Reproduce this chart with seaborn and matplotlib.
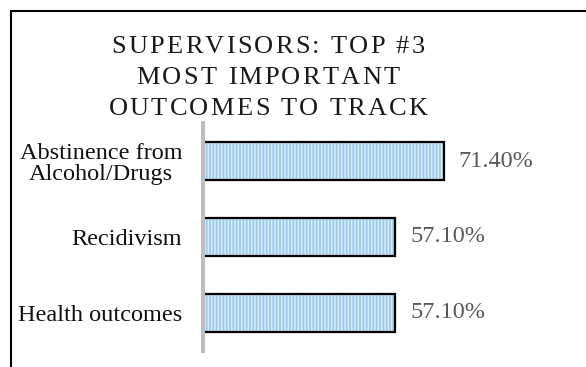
import matplotlib
matplotlib.use("Agg")
import matplotlib.pyplot as plt
import seaborn as sns
import pandas as pd
from matplotlib.patches import Rectangle

# Data
categories = ["Abstinence from\nAlcohol/Drugs", "Recidivism", "Health outcomes"]
values = [71.4, 57.1, 57.1]
title_lines = ["SUPERVISORS: TOP #3", "MOST IMPORTANT", "OUTCOMES TO TRACK"]

df = pd.DataFrame({"outcome": categories, "pct": values})

sns.set_theme(style="white")
plt.rcParams["font.family"] = ["Liberation Serif", "DejaVu Serif"]
plt.rcParams["hatch.linewidth"] = 1.1

W, H, DPI = 586, 367, 100
fig = plt.figure(figsize=(W / DPI, H / DPI), dpi=DPI)
fig.patch.set_facecolor("white")

# axes placed in pixel terms
ax_left, ax_right, ax_top, ax_bottom = 203, 540, 123, 351
ax = fig.add_axes([ax_left / W, 1 - ax_bottom / H,
                   (ax_right - ax_left) / W, (ax_bottom - ax_top) / H])

# striped fill
sns.barplot(data=df, y="outcome", x="pct", orient="h", ax=ax,
            color="#9DCAEA", saturation=1, width=0.51,
            edgecolor="#D8ECF9", linewidth=0, hatch="|||||")
# black outline
sns.barplot(data=df, y="outcome", x="pct", orient="h", ax=ax,
            fill=False, width=0.51, edgecolor="black", linewidth=1.6)

ax.set_xlim(0, 100)
ax.set_ylim(2.5, -0.5)
ax.set_xlabel("")
ax.set_ylabel("")
ax.set_xticks([])
for s in ["top", "right", "bottom"]:
    ax.spines[s].set_visible(False)
ax.spines["left"].set_color("#BFBFBF")
ax.spines["left"].set_linewidth(2.9)
ax.tick_params(axis="y", length=0, pad=15, labelsize=17.5, labelcolor="#111111")
for lbl in ax.get_yticklabels():
    lbl.set_multialignment("center")
    lbl.set_linespacing(1.05)

# value labels
for i, v in enumerate(values):
    ax.annotate(f"{v:.2f}%", xy=(v, i), xytext=(15, 0), textcoords="offset pixels",
                ha="left", va="center", fontsize=17.5, color="#595959")

# letter-spaced title
renderer = fig.canvas.get_renderer()
title_size = 19


def char_widths(line):
    out = []
    for ch in line:
        if ch == " ":
            t = fig.text(0, 0, "a a", fontsize=title_size)
            t2 = fig.text(0, 0, "aa", fontsize=title_size)
            w = t.get_window_extent(renderer).width - t2.get_window_extent(renderer).width
            t.remove(); t2.remove()
        else:
            t = fig.text(0, 0, ch, fontsize=title_size)
            w = t.get_window_extent(renderer).width
            t.remove()
        out.append(w)
    return out


first = char_widths(title_lines[0])
tracking = (313 - sum(first)) / (len(title_lines[0]) - 1)
baselines = [53, 84, 115]
title_center = 268
for line, base in zip(title_lines, baselines):
    widths = char_widths(line)
    total = sum(widths) + tracking * (len(line) - 1)
    x = title_center - total / 2
    for ch, w in zip(line, widths):
        if ch != " ":
            fig.text(x / W, 1 - base / H, ch, fontsize=title_size,
                     color="#1a1a1a", ha="left", va="baseline")
        x += w + tracking

# frame around the chart
fig.add_artist(Rectangle((11 / W, -0.2), 1.2, 1 - 11 / H + 0.2,
                         transform=fig.transFigure, fill=False,
                         edgecolor="black", linewidth=1.5))

fig.savefig("out.png", dpi=DPI)
